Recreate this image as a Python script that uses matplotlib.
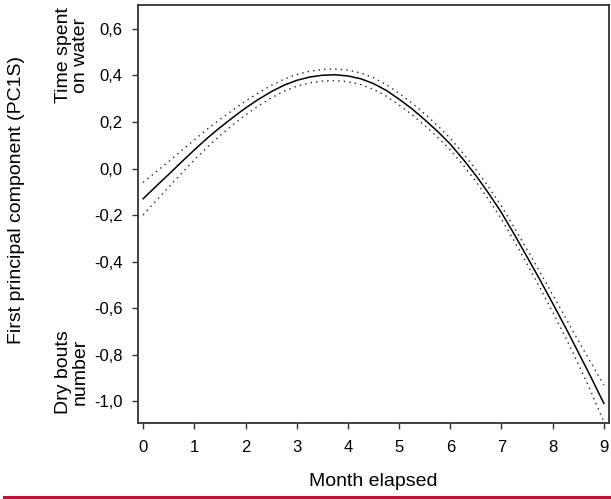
import matplotlib.pyplot as plt
from matplotlib.ticker import FuncFormatter

plt.rcParams['font.family'] = ['Liberation Sans', 'DejaVu Sans']

# values (fitted curve and half width of the dotted band)
month = [0, 0.25, 0.5, 0.75, 1, 1.25, 1.5, 1.75, 2, 2.25, 2.5, 2.75, 3, 3.25, 3.5, 3.75,
         4, 4.25, 4.5, 4.75, 5, 5.25, 5.5, 5.75, 6, 6.25, 6.5, 6.75, 7, 7.25, 7.5, 7.75,
         8, 8.25, 8.5, 8.75, 9]
pc1s = [-0.13, -0.077, -0.025, 0.028, 0.08, 0.13, 0.176, 0.219, 0.26, 0.297, 0.33, 0.358,
        0.379, 0.393, 0.401, 0.403, 0.398, 0.386, 0.365, 0.336, 0.298, 0.257, 0.21, 0.16,
        0.105, 0.04, -0.03, -0.107, -0.19, -0.283, -0.38, -0.478, -0.58, -0.683, -0.79,
        -0.898, -1.01]
band = [0.07, 0.062, 0.055, 0.049, 0.043, 0.039, 0.035, 0.032, 0.03, 0.028, 0.027, 0.026,
        0.025, 0.025, 0.025, 0.025, 0.025, 0.025, 0.025, 0.025, 0.025, 0.025, 0.025, 0.025,
        0.025, 0.025, 0.026, 0.027, 0.028, 0.029, 0.031, 0.034, 0.037, 0.042, 0.05, 0.062, 0.08]

upper = [f + b for f, b in zip(pc1s, band)]
lower = [f - b for f, b in zip(pc1s, band)]

xticks = list(range(0, 10))
yticks = [-1.0, -0.8, -0.6, -0.4, -0.2, 0.0, 0.2, 0.4, 0.6]

fig = plt.figure(figsize=(6.11, 4.99), dpi=100)
ax = fig.add_axes([138/611, 76/499, 471/611, 418/499])

ax.plot(month, pc1s, color='black', lw=1.1)
ax.plot(month, upper, color='#222222', lw=1.0, ls=(0, (1, 3)))
ax.plot(month, lower, color='#222222', lw=1.0, ls=(0, (1, 3)))

ax.set_xlim(-0.1, 9.1)
ax.set_ylim(-1.094, 0.703)
ax.set_xticks(xticks)
ax.set_yticks(yticks)
ax.yaxis.set_major_formatter(FuncFormatter(lambda v, p: f"{v:.1f}".replace('.', ',')))
ax.tick_params(direction='out', length=4.5, width=1, colors='#333333', labelcolor='black',
               labelsize=12)
ax.tick_params(axis='y', pad=6.5)
ax.tick_params(axis='x', pad=8)
for s in ax.spines.values():
    s.set_color('#333333')
    s.set_linewidth(1.3)

ax.set_xlabel('Month elapsed', fontsize=14, labelpad=13)
fig.text(17/611, 1 - 200/499, 'First principal component (PC1S)', rotation=90,
         ha='center', va='center', fontsize=14)
fig.text(72/611, 1 - 55/499, 'Time spent\non water', rotation=90,
         ha='center', va='center', fontsize=14, linespacing=0.95)
fig.text(72/611, 1 - 372/499, 'Dry bouts\nnumber', rotation=90,
         ha='center', va='center', fontsize=14, linespacing=0.95)

fig.add_artist(plt.Line2D([4/611, 1], [2.5/499, 2.5/499], color='#c0103a', lw=2.2))

fig.savefig('out.png', dpi=100)
